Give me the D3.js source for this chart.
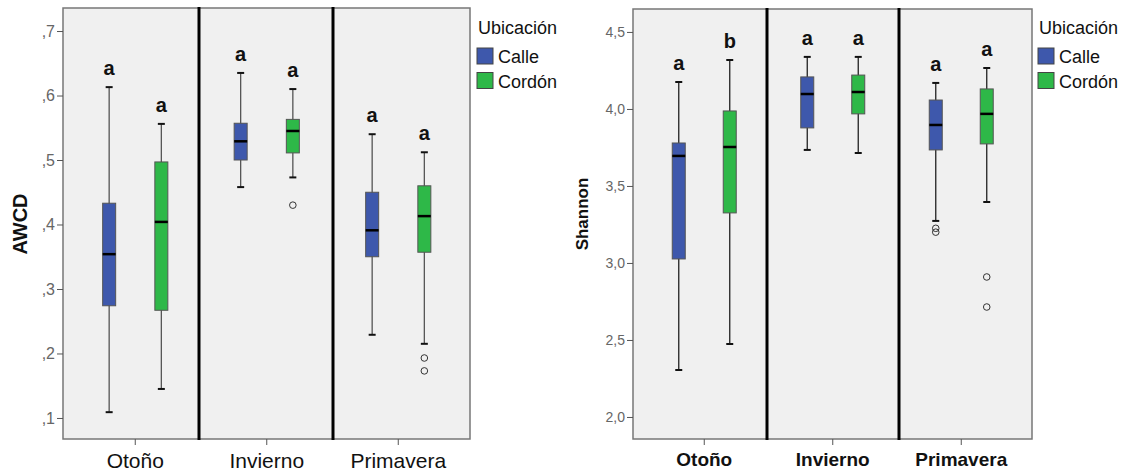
<!DOCTYPE html>
<html>
<head>
<meta charset="utf-8">
<script src="https://cdn.jsdelivr.net/npm/d3@7"></script>
<style>
  body { margin: 0; background: #fff; }
  text { font-family: Arial, "Liberation Sans", sans-serif; }
</style>
</head>
<body>
<svg id="fig" width="1128" height="475"></svg>
<script>
const seasons = ["Otoño", "Invierno", "Primavera"];
const groups = ["Calle", "Cordón"];
const groupColors = ["#3e58ac", "#2eb848"];

// [low whisker, Q1, median, Q3, high whisker] for each season
const awcdCalle = [
    [0.109, 0.274, 0.354, 0.433, 0.613],
    [0.458, 0.500, 0.529, 0.557, 0.635],
    [0.229, 0.350, 0.391, 0.450, 0.540]
];
const awcdCordon = [
    [0.145, 0.267, 0.404, 0.497, 0.556],
    [0.473, 0.511, 0.545, 0.563, 0.610],
    [0.215, 0.357, 0.413, 0.460, 0.512]
];
const awcdOutliers = [
    { season: "Invierno", group: "Cordón", value: 0.430 },
    { season: "Primavera", group: "Cordón", value: 0.193 },
    { season: "Primavera", group: "Cordón", value: 0.173 }
];
const awcdLetters = [["a", "a"], ["a", "a"], ["a", "a"]];
const awcdTicks = [0.1, 0.2, 0.3, 0.4, 0.5, 0.6, 0.7];

const shannonCalle = [
    [2.305, 3.026, 3.695, 3.779, 4.175],
    [3.734, 3.877, 4.097, 4.208, 4.338],
    [3.273, 3.734, 3.896, 4.058, 4.169]
];
const shannonCordon = [
    [2.474, 3.325, 3.753, 3.987, 4.318],
    [3.714, 3.968, 4.110, 4.220, 4.338],
    [3.396, 3.773, 3.968, 4.130, 4.266]
];
const shannonOutliers = [
    { season: "Primavera", group: "Calle", value: 3.225 },
    { season: "Primavera", group: "Calle", value: 3.200 },
    { season: "Primavera", group: "Cordón", value: 2.909 },
    { season: "Primavera", group: "Cordón", value: 2.714 }
];
const shannonLetters = [["a", "b"], ["a", "a"], ["a", "a"]];
const shannonTicks = [2.0, 2.5, 3.0, 3.5, 4.0, 4.5];

var svg = d3.select("#fig");

function drawChart(opt) {
    // the season bands are a little narrower than the frame, as in SPSS
    var x = d3.scaleBand()
        .domain(seasons)
        .range(opt.bandRange);

    // the two boxes sit at about 30% and 70% of each season band
    var xGroup = d3.scalePoint()
        .domain(groups)
        .range([0, x.bandwidth()])
        .padding(0.76);

    var y = d3.scaleLinear()
        .domain(opt.domain)
        .range([opt.bottom, opt.top]);

    var g = svg.append("g");

    g.append("rect")
        .attr("x", opt.left)
        .attr("y", opt.top)
        .attr("width", opt.right - opt.left)
        .attr("height", opt.bottom - opt.top)
        .attr("fill", "#f0f0f0")
        .attr("stroke", "#777")
        .attr("stroke-width", 1.5);

    // y axis
    var yAxis = g.append("g")
        .attr("transform", "translate(" + opt.left + ",0)")
        .call(d3.axisLeft(y).tickValues(opt.ticks).tickSize(6).tickPadding(2)
            .tickFormat(opt.tickFormat));
    yAxis.select(".domain").remove();
    yAxis.selectAll(".tick line").attr("stroke", "#555");
    yAxis.selectAll(".tick text")
        .attr("fill", "#666")
        .style("font-size", opt.tickSize + "px")
        .style("font-family", "Arial, 'Liberation Sans', sans-serif");

    // x axis
    var xAxis = g.append("g")
        .attr("transform", "translate(0," + opt.bottom + ")")
        .call(d3.axisBottom(x).tickSize(6).tickPadding(8));
    xAxis.select(".domain").remove();
    xAxis.selectAll(".tick line").attr("stroke", "#555");
    xAxis.selectAll(".tick text")
        .attr("fill", "#111")
        .style("font-size", opt.xLabelSize + "px")
        .style("font-weight", opt.xLabelWeight)
        .style("font-family", "Arial, 'Liberation Sans', sans-serif");

    // season dividers
    g.append("g")
        .selectAll("line")
        .data(opt.dividers)
        .enter()
        .append("line")
        .attr("x1", d => d)
        .attr("x2", d => d)
        .attr("y1", opt.top - 1)
        .attr("y2", opt.bottom + 1)
        .attr("stroke", "#000")
        .attr("stroke-width", 3);

    var boxes = [];
    seasons.forEach(function (s, i) {
        boxes.push({ season: s, group: groups[0], stats: opt.calle[i], letter: opt.letters[i][0], color: groupColors[0] });
        boxes.push({ season: s, group: groups[1], stats: opt.cordon[i], letter: opt.letters[i][1], color: groupColors[1] });
    });

    var cx = d => x(d.season) + xGroup(d.group);
    var boxW = 13;
    var capW = 7;

    var bg = g.append("g")
        .selectAll("g")
        .data(boxes)
        .enter()
        .append("g");

    bg.append("line")
        .attr("x1", cx).attr("x2", cx)
        .attr("y1", d => y(d.stats[0]))
        .attr("y2", d => y(d.stats[4]))
        .attr("stroke", opt.whiskerColor)
        .attr("stroke-width", 1.3);

    bg.append("line")
        .attr("x1", d => cx(d) - capW / 2).attr("x2", d => cx(d) + capW / 2)
        .attr("y1", d => y(d.stats[0])).attr("y2", d => y(d.stats[0]))
        .attr("stroke", "#111")
        .attr("stroke-width", 2);

    bg.append("line")
        .attr("x1", d => cx(d) - capW / 2).attr("x2", d => cx(d) + capW / 2)
        .attr("y1", d => y(d.stats[4])).attr("y2", d => y(d.stats[4]))
        .attr("stroke", "#111")
        .attr("stroke-width", 2);

    bg.append("rect")
        .attr("x", d => cx(d) - boxW / 2)
        .attr("width", boxW)
        .attr("y", d => y(d.stats[3]))
        .attr("height", d => y(d.stats[1]) - y(d.stats[3]))
        .attr("fill", d => d.color)
        .attr("stroke", "#555")
        .attr("stroke-width", 1);

    bg.append("line")
        .attr("x1", d => cx(d) - boxW / 2).attr("x2", d => cx(d) + boxW / 2)
        .attr("y1", d => y(d.stats[2])).attr("y2", d => y(d.stats[2]))
        .attr("stroke", "#000")
        .attr("stroke-width", 2.5);

    bg.append("text")
        .attr("x", cx)
        .attr("y", d => y(d.stats[4]) - 12)
        .attr("text-anchor", "middle")
        .style("font-size", "20px")
        .style("font-weight", "bold")
        .attr("fill", "#111")
        .text(d => d.letter);

    g.append("g")
        .selectAll("circle")
        .data(opt.outliers)
        .enter()
        .append("circle")
        .attr("cx", d => x(d.season) + xGroup(d.group))
        .attr("cy", d => y(d.value))
        .attr("r", 3.3)
        .attr("fill", "none")
        .attr("stroke", "#333")
        .attr("stroke-width", 1);

    // y title
    g.append("text")
        .attr("transform", "translate(" + opt.titleX + "," + opt.titleY + ") rotate(-90)")
        .attr("text-anchor", "middle")
        .attr("dominant-baseline", "central")
        .style("font-size", opt.titleSize + "px")
        .style("font-weight", "bold")
        .attr("fill", "#111")
        .text(opt.title);

    // legend
    var lg = g.append("g")
        .attr("transform", "translate(" + opt.legendX + ",0)");
    lg.append("text")
        .attr("x", 1)
        .attr("y", 34)
        .style("font-size", "18px")
        .attr("fill", "#111")
        .text("Ubicación");
    var items = lg.selectAll("g")
        .data(groups)
        .enter()
        .append("g")
        .attr("transform", (d, i) => "translate(0," + (48 + i * 24.5) + ")");
    items.append("rect")
        .attr("width", 16)
        .attr("height", 16)
        .attr("fill", (d, i) => groupColors[i])
        .attr("stroke", "#444")
        .attr("stroke-width", 1);
    items.append("text")
        .attr("x", 21)
        .attr("y", 15)
        .style("font-size", "18px")
        .attr("fill", "#111")
        .text(d => d);
}

drawChart({
    left: 63, right: 470, top: 8, bottom: 439,
    bandRange: [69.5, 464],
    dividers: [199, 333],
    domain: [0.0674, 0.7357],
    ticks: awcdTicks,
    tickFormat: d => d3.format(".1f")(d).replace("0.", ","),
    tickSize: 16,
    xLabelSize: 21,
    xLabelWeight: "normal",
    calle: awcdCalle,
    cordon: awcdCordon,
    outliers: awcdOutliers,
    letters: awcdLetters,
    whiskerColor: "#555",
    title: "AWCD",
    titleSize: 20,
    titleX: 20,
    titleY: 224,
    legendX: 477
});

drawChart({
    left: 633, right: 1032, top: 9, bottom: 439,
    bandRange: [640, 1025.5],
    dividers: [767, 899],
    domain: [1.857, 4.649],
    ticks: shannonTicks,
    tickFormat: d => d3.format(".1f")(d).replace(".", ","),
    tickSize: 14,
    xLabelSize: 19,
    xLabelWeight: "bold",
    calle: shannonCalle,
    cordon: shannonCordon,
    outliers: shannonOutliers,
    letters: shannonLetters,
    whiskerColor: "#222",
    title: "Shannon",
    titleSize: 17,
    titleX: 582,
    titleY: 214,
    legendX: 1038
});
</script>
</body>
</html>
